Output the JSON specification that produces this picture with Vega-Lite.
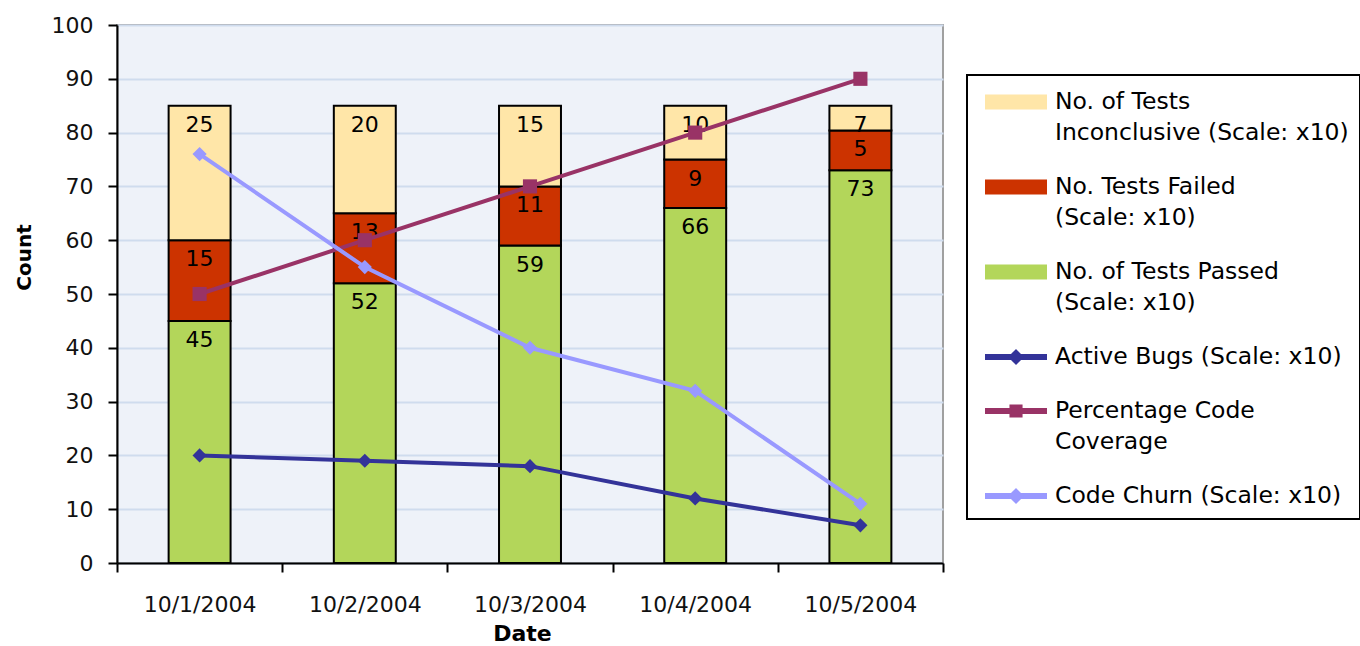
{
  "$schema": "https://vega.github.io/schema/vega-lite/v6.json",
  "width": 826,
  "height": 538,
  "autosize": {"type": "none"},
  "padding": {"left": 117, "top": 25, "right": 417, "bottom": 83},
  "background": "white",
  "config": {
    "font": "DejaVu Sans",
    "view": {"stroke": "#a0a0a0", "strokeWidth": 2, "fill": "#eef2f9"},
    "legend": {"strokeWidth": 2},
    "axis": {
      "domainColor": "#000000",
      "domainWidth": 2,
      "tickColor": "#000000",
      "tickWidth": 2,
      "tickSize": 9,
      "labelFont": "DejaVu Sans",
      "labelFontSize": 22,
      "labelColor": "#111111",
      "titleFont": "DejaVu Sans",
      "titleFontWeight": "bold",
      "titleColor": "#000000"
    }
  },
  "data": {
    "values": [
      {"date": "10/1/2004", "series": "No. of Tests Passed (Scale: x10)", "outcomeRank": 1, "value": 45, "label": "45"},
      {"date": "10/2/2004", "series": "No. of Tests Passed (Scale: x10)", "outcomeRank": 1, "value": 52, "label": "52"},
      {"date": "10/3/2004", "series": "No. of Tests Passed (Scale: x10)", "outcomeRank": 1, "value": 59, "label": "59"},
      {"date": "10/4/2004", "series": "No. of Tests Passed (Scale: x10)", "outcomeRank": 1, "value": 66, "label": "66"},
      {"date": "10/5/2004", "series": "No. of Tests Passed (Scale: x10)", "outcomeRank": 1, "value": 73, "label": "73"},
      {"date": "10/1/2004", "series": "No. Tests Failed (Scale: x10)", "outcomeRank": 2, "value": 15, "label": "15"},
      {"date": "10/2/2004", "series": "No. Tests Failed (Scale: x10)", "outcomeRank": 2, "value": 13, "label": "13"},
      {"date": "10/3/2004", "series": "No. Tests Failed (Scale: x10)", "outcomeRank": 2, "value": 11, "label": "11"},
      {"date": "10/4/2004", "series": "No. Tests Failed (Scale: x10)", "outcomeRank": 2, "value": 9, "label": "9"},
      {"date": "10/5/2004", "series": "No. Tests Failed (Scale: x10)", "outcomeRank": 2, "value": 7.4, "label": "5"},
      {"date": "10/1/2004", "series": "No. of Tests Inconclusive (Scale: x10)", "outcomeRank": 3, "value": 25, "label": "25"},
      {"date": "10/2/2004", "series": "No. of Tests Inconclusive (Scale: x10)", "outcomeRank": 3, "value": 20, "label": "20"},
      {"date": "10/3/2004", "series": "No. of Tests Inconclusive (Scale: x10)", "outcomeRank": 3, "value": 15, "label": "15"},
      {"date": "10/4/2004", "series": "No. of Tests Inconclusive (Scale: x10)", "outcomeRank": 3, "value": 10, "label": "10"},
      {"date": "10/5/2004", "series": "No. of Tests Inconclusive (Scale: x10)", "outcomeRank": 3, "value": 4.6, "label": "7"},
      {"date": "10/1/2004", "series": "Active Bugs (Scale: x10)", "value": 20, "label": "20"},
      {"date": "10/2/2004", "series": "Active Bugs (Scale: x10)", "value": 19, "label": "19"},
      {"date": "10/3/2004", "series": "Active Bugs (Scale: x10)", "value": 18, "label": "18"},
      {"date": "10/4/2004", "series": "Active Bugs (Scale: x10)", "value": 12, "label": "12"},
      {"date": "10/5/2004", "series": "Active Bugs (Scale: x10)", "value": 7, "label": "7"},
      {"date": "10/1/2004", "series": "Percentage Code Coverage", "value": 50, "label": "50"},
      {"date": "10/2/2004", "series": "Percentage Code Coverage", "value": 60, "label": "60"},
      {"date": "10/3/2004", "series": "Percentage Code Coverage", "value": 70, "label": "70"},
      {"date": "10/4/2004", "series": "Percentage Code Coverage", "value": 80, "label": "80"},
      {"date": "10/5/2004", "series": "Percentage Code Coverage", "value": 90, "label": "90"},
      {"date": "10/1/2004", "series": "Code Churn (Scale: x10)", "value": 76, "label": "76"},
      {"date": "10/2/2004", "series": "Code Churn (Scale: x10)", "value": 55, "label": "55"},
      {"date": "10/3/2004", "series": "Code Churn (Scale: x10)", "value": 40, "label": "40"},
      {"date": "10/4/2004", "series": "Code Churn (Scale: x10)", "value": 32, "label": "32"},
      {"date": "10/5/2004", "series": "Code Churn (Scale: x10)", "value": 11, "label": "11"}
    ]
  },
  "layer": [
    {
      "transform": [{"filter": "indexof(['No. of Tests Passed (Scale: x10)','No. Tests Failed (Scale: x10)','No. of Tests Inconclusive (Scale: x10)'], datum.series) >= 0"}],
      "mark": {"type": "bar", "width": {"band": 0.375}, "stroke": "#000000", "strokeWidth": 2},
      "encoding": {
        "x": {
          "field": "date",
          "type": "ordinal",
          "scale": {"paddingInner": 0, "paddingOuter": 0},
          "axis": {
            "title": "Date",
            "labelAngle": 0,
            "labelPadding": 22,
            "tickBand": "extent",
            "titleFontSize": 22,
            "titleX": 405,
            "titleY": 70,
            "titleBaseline": "middle"
          }
        },
        "y": {
          "field": "value",
          "type": "quantitative",
          "stack": "zero",
          "scale": {"domain": [0, 100], "nice": false},
          "axis": {
            "title": "Count",
            "values": [0, 10, 20, 30, 40, 50, 60, 70, 80, 90, 100],
            "labelPadding": 15,
            "gridColor": "#cfdcee",
            "gridWidth": 2,
            "titleFontSize": 20,
            "titleAngle": -90,
            "titleX": -93,
            "titleY": 232,
            "titleBaseline": "middle"
          }
        },
        "color": {
          "field": "series",
          "type": "nominal",
          "scale": {
            "domain": ["No. of Tests Inconclusive (Scale: x10)", "No. Tests Failed (Scale: x10)", "No. of Tests Passed (Scale: x10)", "Active Bugs (Scale: x10)", "Percentage Code Coverage", "Code Churn (Scale: x10)"],
            "range": ["#ffe6a8", "#cc3300", "#b3d65a", "#333399", "#993366", "#9999ff"]
          },
          "legend": {
            "title": null,
            "orient": "none",
            "legendX": 850,
            "legendY": 50,
            "padding": 11,
            "strokeColor": "#000000",
            "fillColor": "#ffffff",
            "symbolSize": 900,
            "symbolType": "M-0.533,-0.44H3.467V0.44H-0.533Z",
            "symbolStrokeColor": "#000000",
            "symbolStrokeWidth": 2,
            "symbolOpacity": 1,
            "labelOffset": 45,
            "labelFont": "DejaVu Sans",
            "labelFontSize": 23.5,
            "labelColor": "#000000",
            "labelLimit": 400,
            "rowPadding": 26,
            "labelExpr": "datum.label == 'No. of Tests Inconclusive (Scale: x10)' ? ['No. of Tests', 'Inconclusive (Scale: x10)'] : datum.label == 'No. Tests Failed (Scale: x10)' ? ['No. Tests Failed', '(Scale: x10)'] : datum.label == 'No. of Tests Passed (Scale: x10)' ? ['No. of Tests Passed', '(Scale: x10)'] : datum.label == 'Percentage Code Coverage' ? ['Percentage Code', 'Coverage'] : datum.label",
            "encode": {
              "labels": {"update": {"lineHeight": {"value": 31}}},
              "symbols": {
                "update": {
                  "shape": {"signal": "indexof(['No. of Tests Inconclusive (Scale: x10)','No. Tests Failed (Scale: x10)','No. of Tests Passed (Scale: x10)'], datum.value) >= 0 ? 'M-0.533,-0.44H3.467V0.44H-0.533Z' : datum.value == 'Percentage Code Coverage' ? 'M-0.533,-0.13H3.467V0.13H-0.533Z M1.097,-0.37H1.837V0.37H1.097Z' : 'M-0.533,-0.13H3.467V0.13H-0.533Z M1.467,-0.44L1.907,0L1.467,0.44L1.027,0Z'"},
                  "stroke": {"signal": "indexof(['No. of Tests Inconclusive (Scale: x10)','No. Tests Failed (Scale: x10)','No. of Tests Passed (Scale: x10)'], datum.value) >= 0 ? '#000000' : 'transparent'"}
                }
              }
            }
          }
        },
        "order": {"field": "outcomeRank", "type": "quantitative", "sort": "ascending"}
      }
    },
    {
      "transform": [{"filter": "indexof(['No. of Tests Passed (Scale: x10)','No. Tests Failed (Scale: x10)','No. of Tests Inconclusive (Scale: x10)'], datum.series) >= 0"}],
      "mark": {"type": "text", "baseline": "middle", "dy": 19, "fontSize": 22, "color": "#000000", "font": "DejaVu Sans"},
      "encoding": {
        "x": {"field": "date", "type": "ordinal"},
        "y": {"field": "value", "type": "quantitative", "stack": "zero"},
        "detail": {"field": "series", "type": "nominal"},
        "order": {"field": "outcomeRank", "type": "quantitative", "sort": "ascending"},
        "text": {"field": "label"}
      }
    },
    {
      "transform": [{"filter": "indexof(['Active Bugs (Scale: x10)','Percentage Code Coverage','Code Churn (Scale: x10)'], datum.series) >= 0"}],
      "mark": {"type": "line", "strokeWidth": 4},
      "encoding": {
        "x": {"field": "date", "type": "ordinal"},
        "y": {"field": "value", "type": "quantitative"},
        "color": {"field": "series", "type": "nominal"}
      }
    },
    {
      "transform": [{"filter": "indexof(['Active Bugs (Scale: x10)','Percentage Code Coverage','Code Churn (Scale: x10)'], datum.series) >= 0"}],
      "mark": {"type": "point", "filled": true, "opacity": 1, "size": 200},
      "encoding": {
        "x": {"field": "date", "type": "ordinal"},
        "y": {"field": "value", "type": "quantitative"},
        "color": {"field": "series", "type": "nominal"},
        "shape": {
          "field": "series",
          "type": "nominal",
          "scale": {"domain": ["Active Bugs (Scale: x10)", "Percentage Code Coverage", "Code Churn (Scale: x10)"], "range": ["diamond", "square", "diamond"]},
          "legend": null
        }
      }
    }
  ]
}
